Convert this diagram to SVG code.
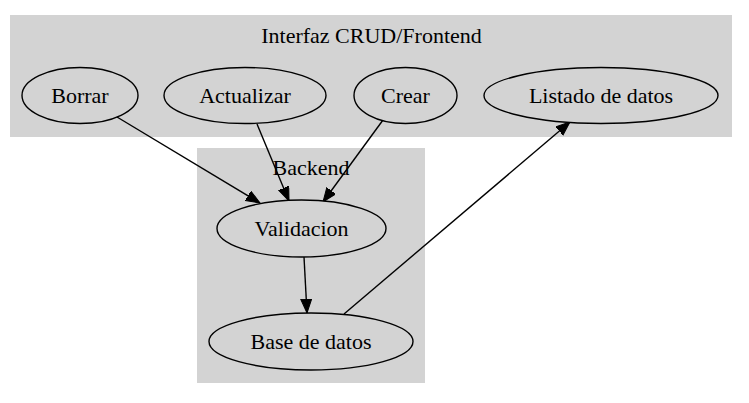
<svg xmlns="http://www.w3.org/2000/svg" width="749" height="403" viewBox="0 0 749 403">
<style>
.cl{fill:#d3d3d3;stroke:none}
.nd{fill:#d3d3d3;stroke:#000;stroke-width:1.4}
.t{font-family:'Liberation Serif','Times New Roman',Times,'DejaVu Serif',serif;font-size:22px;fill:#000;text-anchor:middle}
.ed{stroke:#000;stroke-width:1.4;fill:none;marker-end:url(#ah)}
</style>
<defs>
<marker id="ah" markerUnits="userSpaceOnUse" markerWidth="15" markerHeight="12" refX="14" refY="5.5" orient="auto">
<path d="M0,0 L14,5.5 L0,11 z" fill="#000" stroke="#000" stroke-width="1"/>
</marker>
</defs>
<rect width="749" height="403" fill="#fff"/>
<g id="cluster_frontend">
<rect class="cl" x="10" y="15" width="722" height="122"/>
<text class="t" x="371.5" y="43">Interfaz CRUD/Frontend</text>
</g>
<g id="cluster_backend">
<rect class="cl" x="197" y="148" width="228" height="235"/>
<text class="t" x="311" y="175">Backend</text>
</g>
<g id="connectors">
<line class="ed" x1="117" y1="117" x2="260" y2="203"/>
<line class="ed" x1="257" y1="124" x2="289" y2="201"/>
<line class="ed" x1="383" y1="120" x2="323" y2="202"/>
<line class="ed" x1="304" y1="257" x2="307" y2="313"/>
<line class="ed" x1="344" y1="314" x2="570" y2="122"/>
</g>
<g id="node_borrar">
<ellipse class="nd" cx="80" cy="95.5" rx="58" ry="28"/>
<text class="t" x="80" y="103">Borrar</text>
</g>
<g id="node_actualizar">
<ellipse class="nd" cx="245" cy="95.5" rx="81" ry="28"/>
<text class="t" x="245" y="103">Actualizar</text>
</g>
<g id="node_crear">
<ellipse class="nd" cx="405.5" cy="95.5" rx="51.5" ry="28"/>
<text class="t" x="405.5" y="103">Crear</text>
</g>
<g id="node_listado">
<ellipse class="nd" cx="601" cy="95.5" rx="117" ry="28"/>
<text class="t" x="601" y="103">Listado de datos</text>
</g>
<g id="node_validacion">
<ellipse class="nd" cx="301.5" cy="228.5" rx="84.5" ry="28.5"/>
<text class="t" x="301.5" y="236">Validacion</text>
</g>
<g id="node_base">
<ellipse class="nd" cx="311" cy="341.5" rx="102" ry="28.5"/>
<text class="t" x="311" y="349">Base de datos</text>
</g>
</svg>
